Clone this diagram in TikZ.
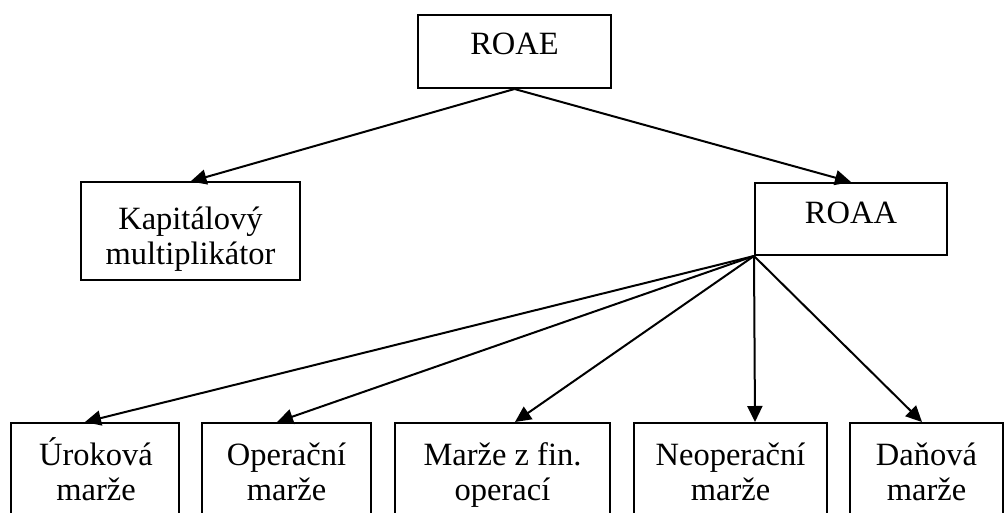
\documentclass[tikz,border=0pt]{standalone}
\usepackage{fontspec}
\setmainfont{Liberation Serif}
\usetikzlibrary{arrows.meta}
\newcommand\tstrut{\rule[-9pt]{0pt}{39pt}}
\newcommand\bstrut{\rule[-9pt]{0pt}{9pt}}
\begin{document}
\begin{tikzpicture}[x=1pt,y=-1pt,
  box/.style={draw,line width=2pt,inner sep=0pt},
  lbl/.style={inner sep=0pt,align=center,font=\fontsize{32.5}{35}\selectfont},
  arr/.style={line width=2pt,-{Triangle[length=16pt,width=15pt]}}]
\useasboundingbox (0,0) rectangle (1005,513);
\clip (0,0) rectangle (1005,513);
% boxes
\node[box,minimum width=193pt,minimum height=73pt] (roae) at (514.5,51.5) {};
\node[box,minimum width=219pt,minimum height=98pt] (kap) at (190.5,231.5) {};
\node[box,minimum width=192pt,minimum height=72pt] (roaa) at (851,219) {};
\node[box,minimum width=168pt,minimum height=102pt] (b1) at (95,474) {};
\node[box,minimum width=169pt,minimum height=102pt] (b2) at (286.5,474) {};
\node[box,minimum width=215pt,minimum height=102pt] (b3) at (502.5,474) {};
\node[box,minimum width=193pt,minimum height=102pt] (b4) at (730.5,474) {};
\node[box,minimum width=153pt,minimum height=102pt] (b5) at (926.5,474) {};
% texts
\node[lbl] (roaet) at (514.5,44.5) {\tstrut ROAE};
\node[lbl] (roaat) at (851,213.5) {\tstrut ROAA};
\node[lbl] (kapt) at (190.5,237) {\tstrut Kapitálový\\\bstrut multiplikátor};
\node[lbl] (b1t) at (96,472) {\tstrut Úroková\\\bstrut marže};
\node[lbl] (b2t) at (286.5,472) {\tstrut Operační\\\bstrut marže};
\node[lbl] (b3t) at (502.5,472) {\tstrut Marže z fin.\\\bstrut operací};
\node[lbl] (b4t) at (730.5,472) {\tstrut Neoperační\\\bstrut marže};
\node[lbl] (b5t) at (926.5,472) {\tstrut Daňová\\\bstrut marže};
% connectors
\draw[arr] (roae.south) -- (kap.north);
\draw[arr] (roae.south) -- (roaa.north);
\draw[arr] (roaa.south west) -- ([xshift=-10pt]b1.north);
\draw[arr] (roaa.south west) -- ([xshift=-9.5pt]b2.north);
\draw[arr] (roaa.south west) -- ([xshift=12.5pt]b3.north);
\draw[arr] (roaa.south west) -- ([xshift=24.5pt]b4.north);
\draw[arr] (roaa.south west) -- ([xshift=-4.5pt]b5.north);
\end{tikzpicture}
\end{document}
